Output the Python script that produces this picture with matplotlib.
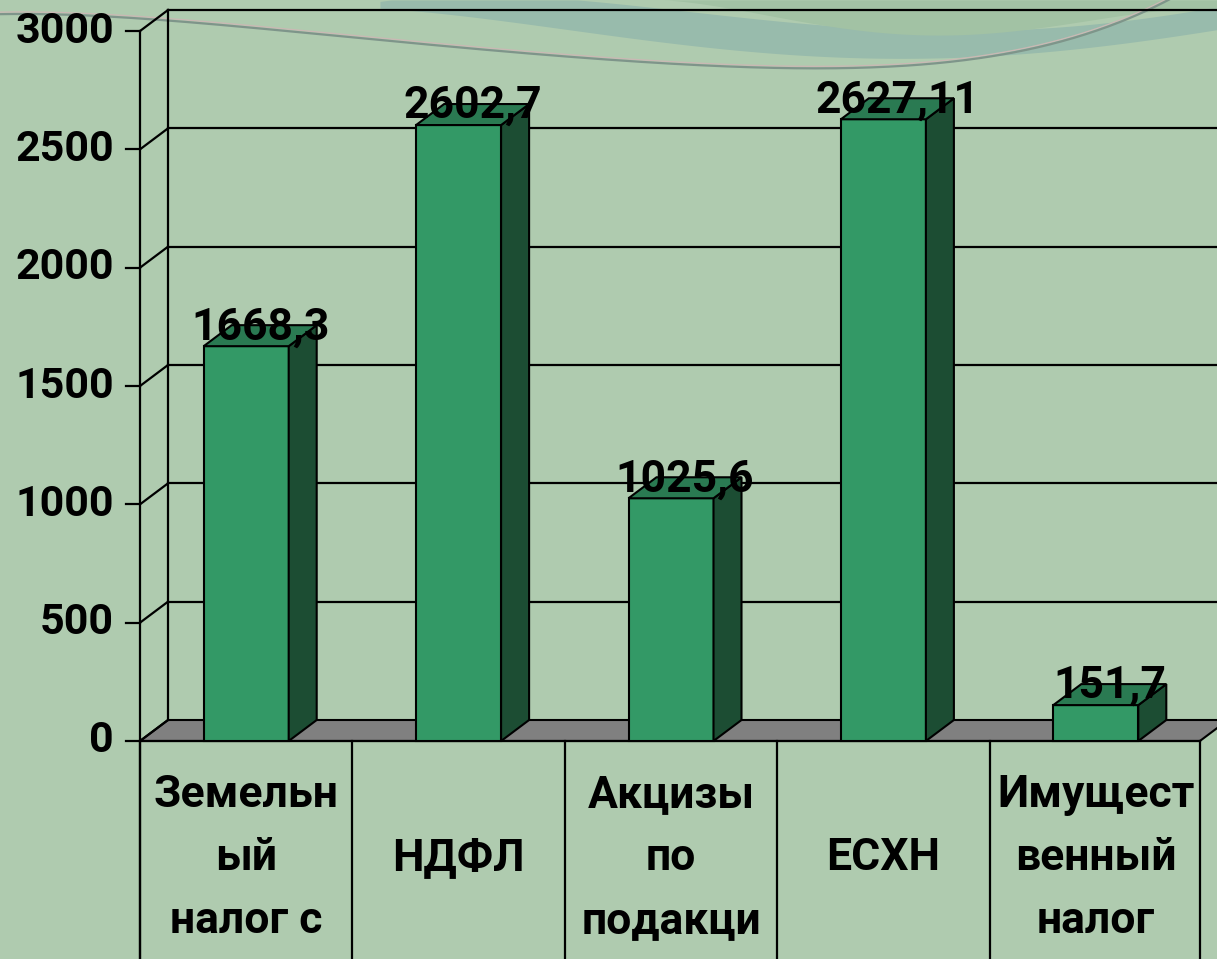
import matplotlib
matplotlib.use("Agg")
import matplotlib.pyplot as plt
from matplotlib.patches import Polygon
import numpy as np

# ---- data ----
categories = [["Земельн", "ый", "налог с"], ["НДФЛ"], ["Акцизы", "по", "подакци"],
              ["ЕСХН"], ["Имущест", "венный", "налог"]]
values = [1668.3, 2602.7, 1025.6, 2627.11, 151.7]
value_labels = ["1668,3", "2602,7", "1025,6", "2627,11", "151,7"]
yticks = [0, 500, 1000, 1500, 2000, 2500, 3000]

# ---- style ----
BG = "#AFCBAF"
FRONT = "#339966"
SIDE = "#1C4D33"
TOP = "#2A7A52"
FLOOR = "#808080"
FONT = ["Roboto", "DejaVu Sans"]
FS_TICK = 31
FS_VAL = 32
FS_CAT = 32

W, H = 1217, 959
fig = plt.figure(figsize=(W / 100, H / 100), dpi=100, facecolor=BG)
ax = fig.add_axes([0, 0, 1, 1])
ax.set_facecolor(BG)
ax.axis("off")

cat_px = 212.4
unit_px = 118.33 / 500
x0_px, y0_px = 140, 741
ax.set_xlim(-0.5 - x0_px / cat_px, -0.5 + (W - x0_px) / cat_px)
ax.set_ylim(-(H - y0_px) / unit_px, y0_px / unit_px)

dx = 28 / cat_px
dy = 21 / unit_px
n = len(values)
xl, xr = -0.5, n - 0.5 - 0.01
ymin_d, ymax_d = ax.get_ylim()
xmin_d, xmax_d = ax.get_xlim()

def px2x(p):
    return xmin_d + np.asarray(p) / cat_px

def py2y(p):
    return ymax_d - np.asarray(p) / unit_px

def smooth(xk, yk, xs, deg=4):
    c = np.polyfit(xk, yk, deg)
    return np.polyval(c, xs)

# decorative background swoosh at the top (not data)
bx = np.linspace(380, W, 300)
low = smooth([380, 550, 700, 880, 1000, 1100, 1217], [8, 28, 45, 59, 56, 45, 30], bx)
upp = np.clip(smooth([380, 500, 650, 800, 900, 1000, 1100, 1217], [0, 0, 2, 22, 35, 30, 20, 8], bx), 0, None)
ax.fill_between(px2x(bx), py2y(low), py2y(upp), color="#98BBAC", lw=0, zorder=1)
gx = np.linspace(650, W, 200)
gup = np.clip(smooth([650, 700, 800, 900, 1000, 1100, 1217], [0, 2, 22, 35, 30, 20, 8], gx), 0, None)
ax.fill_between(px2x(gx), py2y(gup), py2y(np.zeros_like(gx)), color="#A2C2A4", lw=0, zorder=1)
cx = np.linspace(0, 1170, 400)
cy = smooth([0, 200, 400, 550, 700, 850, 950, 1050, 1110, 1140, 1165],
            [14, 24, 40, 56, 67, 67, 60, 45, 28, 14, 0], cx, deg=5)
m = cy > -2
ax.plot(px2x(cx[m]), py2y(cy[m] - 2), color="#C9B9B4", lw=1.0, zorder=1)
ax.plot(px2x(cx[m]), py2y(cy[m]), color="#7E958A", lw=1.6, zorder=1)

# floor
floor = Polygon([(xl, 0), (xr, 0), (xr + dx, dy), (xl + dx, dy)], closed=True,
                facecolor=FLOOR, edgecolor="black", lw=1.5, zorder=2)
ax.add_patch(floor)

# back wall gridlines, left wall diagonals, tick marks and labels
for v in yticks:
    if v > 0:
        ax.plot([xl + dx, xmax_d], [v + dy, v + dy], color="black", lw=1.6, zorder=2)
    ax.plot([xl, xl + dx], [v, v + dy], color="black", lw=1.6, zorder=2)
    ax.plot([xl - 14 / cat_px, xl], [v, v], color="black", lw=1.6, zorder=2)
    ax.text(xl - 26 / cat_px, v, str(v), ha="right", va="center", fontsize=FS_TICK,
            fontweight="bold", family=FONT, zorder=5)
ax.plot([xl + dx, xl + dx], [dy, yticks[-1] + dy], color="black", lw=1.6, zorder=2)
ax.plot([xl, xl], [ymin_d, yticks[-1]], color="black", lw=1.6, zorder=2)

# category separators
for i in range(n + 1):
    xi = -0.5 + i - (0.01 if i == n else 0)
    ax.plot([xi, xi], [ymin_d, 0], color="black", lw=1.6, zorder=2)
ax.plot([xl, xr], [0, 0], color="black", lw=1.6, zorder=3)

# bars
hw = 42.5 / cat_px
for i, v in enumerate(values):
    a, b = i - hw, i + hw
    ax.add_patch(Polygon([(a, 0), (b, 0), (b, v), (a, v)], facecolor=FRONT,
                         edgecolor="black", lw=1.5, zorder=4))
    ax.add_patch(Polygon([(b, 0), (b + dx, dy), (b + dx, v + dy), (b, v)], facecolor=SIDE,
                         edgecolor="black", lw=1.5, zorder=4))
    ax.add_patch(Polygon([(a, v), (b, v), (b + dx, v + dy), (a + dx, v + dy)], facecolor=TOP,
                         edgecolor="black", lw=1.5, zorder=4))
    ax.text(i + dx / 2, v + 80, value_labels[i], ha="center", va="center", fontsize=FS_VAL,
            fontweight="bold", family=FONT, zorder=6)

# category labels
line_y = [-(795 - y0_px) / unit_px, -(858 - y0_px) / unit_px, -(921 - y0_px) / unit_px]
for i, lines in enumerate(categories):
    if len(lines) == 1:
        ax.text(i, line_y[1], lines[0], ha="center", va="center", fontsize=FS_CAT,
                fontweight="bold", family=FONT, zorder=5)
    else:
        for j, s_ in enumerate(lines):
            ax.text(i, line_y[j], s_, ha="center", va="center", fontsize=FS_CAT,
                    fontweight="bold", family=FONT, zorder=5)

fig.savefig("out.png", dpi=100, facecolor=BG)
